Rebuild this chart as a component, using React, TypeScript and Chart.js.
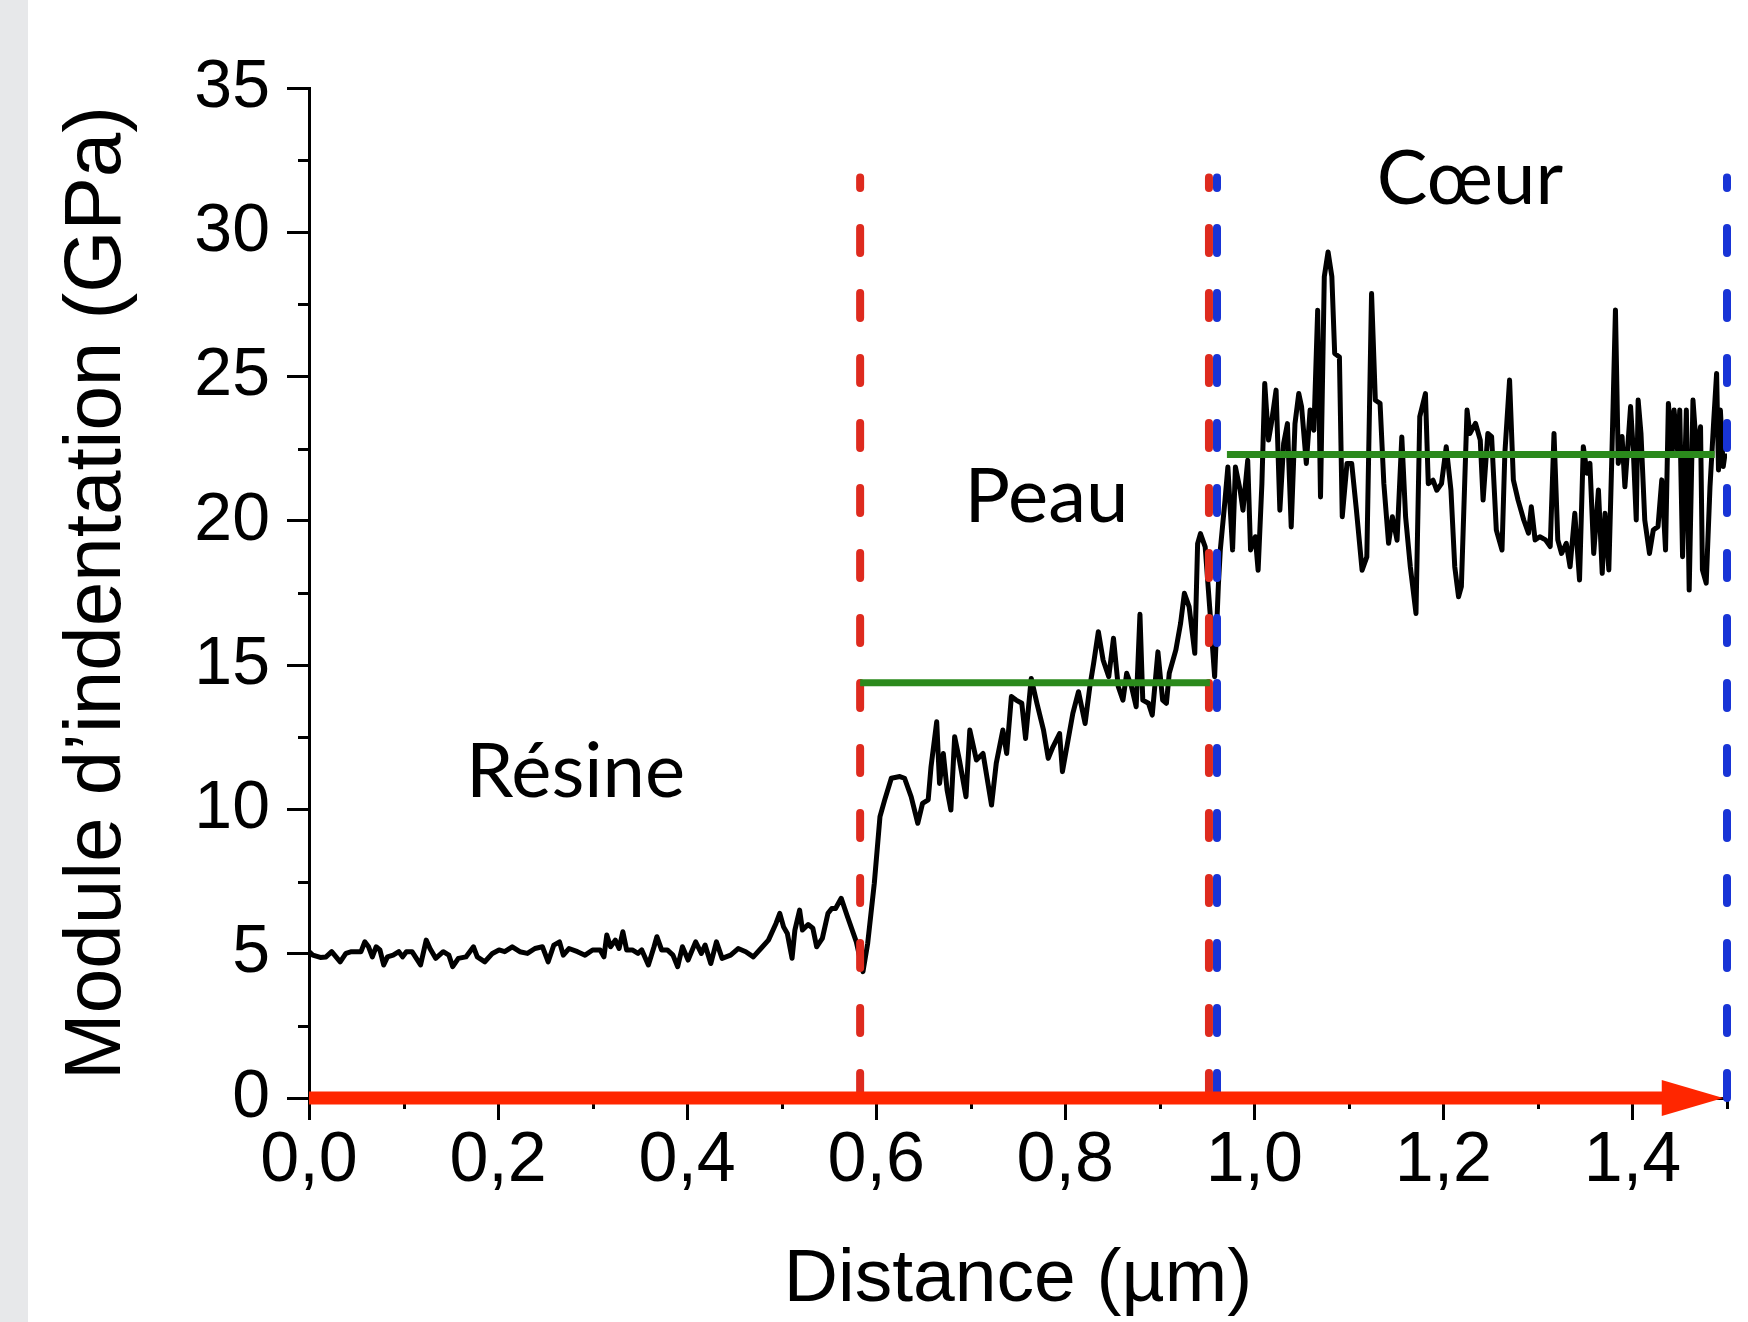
import React, { useEffect, useRef } from "react";
import { Chart, registerables } from "chart.js";

Chart.register(...registerables);

// ---------- data (distance in µm, indentation modulus in GPa) ----------
const RESINE: [number, number][] = [
  [0.000, 5.07], [0.004, 4.95], [0.012, 4.87], [0.018, 4.89], [0.024, 5.07], [0.033, 4.72], [0.039, 5.01], [0.045, 5.07], [0.055, 5.07], [0.059, 5.41],
  [0.063, 5.24], [0.067, 4.89], [0.071, 5.24], [0.075, 5.13], [0.079, 4.61], [0.083, 4.89], [0.089, 4.95], [0.095, 5.07], [0.099, 4.89], [0.103, 5.07],
  [0.109, 5.07], [0.118, 4.61], [0.124, 5.47], [0.128, 5.18], [0.134, 4.84], [0.142, 5.07], [0.148, 4.95], [0.152, 4.55], [0.158, 4.84], [0.166, 4.89],
  [0.174, 5.24], [0.178, 4.89], [0.186, 4.72], [0.194, 5.01], [0.201, 5.13], [0.207, 5.07], [0.215, 5.24], [0.223, 5.07], [0.231, 5.01], [0.239, 5.18],
  [0.247, 5.24], [0.253, 4.72], [0.259, 5.30], [0.265, 5.41], [0.269, 4.95], [0.275, 5.18], [0.284, 5.07], [0.292, 4.95], [0.300, 5.13], [0.308, 5.13],
  [0.312, 4.89], [0.315, 5.65], [0.319, 5.24], [0.324, 5.47], [0.328, 5.18], [0.332, 5.76], [0.336, 5.13], [0.342, 5.13], [0.348, 5.01], [0.352, 5.13],
  [0.359, 4.61], [0.365, 5.24], [0.368, 5.59], [0.373, 5.13], [0.379, 5.13], [0.385, 4.95], [0.390, 4.55], [0.395, 5.24], [0.401, 4.78], [0.409, 5.41],
  [0.415, 5.01], [0.419, 5.30], [0.425, 4.66], [0.431, 5.41], [0.437, 4.84], [0.446, 4.95], [0.454, 5.18], [0.462, 5.07], [0.470, 4.89], [0.478, 5.18],
  [0.486, 5.47], [0.494, 6.05], [0.498, 6.40], [0.502, 5.93], [0.506, 5.70], [0.511, 4.84], [0.514, 5.82], [0.519, 6.51], [0.522, 5.82], [0.528, 6.01],
  [0.533, 5.88], [0.537, 5.24], [0.543, 5.53], [0.549, 6.40], [0.553, 6.57], [0.557, 6.57], [0.563, 6.92], [0.569, 6.34], [0.579, 5.41], [0.586, 4.38],
  [0.591, 5.36],
];

const PEAU: [number, number][] = [
  [0.598, 7.44], [0.604, 9.75], [0.609, 10.33], [0.616, 11.08], [0.625, 11.14], [0.630, 11.08], [0.637, 10.44], [0.644, 9.52], [0.649, 10.21], [0.655, 10.33],
  [0.658, 11.48], [0.664, 13.04], [0.667, 10.90], [0.671, 11.94], [0.675, 10.67], [0.679, 9.98], [0.683, 12.52], [0.688, 11.71], [0.695, 10.44], [0.699, 12.75],
  [0.706, 11.71], [0.713, 11.94], [0.722, 10.15], [0.727, 11.60], [0.734, 12.75], [0.738, 11.94], [0.743, 13.91], [0.748, 13.79], [0.754, 13.68], [0.758, 12.46],
  [0.764, 14.54], [0.770, 13.68], [0.777, 12.75], [0.782, 11.77], [0.787, 12.17], [0.794, 12.63], [0.797, 11.31], [0.802, 12.23], [0.808, 13.33], [0.814, 14.08],
  [0.821, 12.98], [0.826, 14.26], [0.830, 15.06], [0.835, 16.16], [0.840, 15.18], [0.846, 14.60], [0.851, 15.93], [0.856, 14.26], [0.861, 13.79], [0.865, 14.72],
  [0.870, 14.26], [0.875, 13.56], [0.879, 16.76], [0.882, 13.79], [0.888, 13.68], [0.892, 13.27], [0.898, 15.46], [0.903, 13.79], [0.907, 13.68], [0.910, 14.72],
  [0.917, 15.53], [0.922, 16.45], [0.926, 17.49], [0.931, 17.03], [0.937, 15.41], [0.940, 19.21], [0.943, 19.56], [0.948, 19.10], [0.953, 16.90], [0.958, 14.60],
];

const COEUR: [number, number][] = [
  [0.962, 17.80], [0.964, 18.99], [0.969, 20.72], [0.972, 21.87], [0.977, 18.99], [0.980, 21.87], [0.985, 21.06], [0.988, 20.37], [0.993, 22.10], [0.996, 18.99],
  [1.001, 19.45], [1.004, 18.29], [1.008, 21.29], [1.011, 24.76], [1.015, 22.80], [1.018, 23.37], [1.023, 24.53], [1.027, 20.37], [1.031, 22.68], [1.035, 23.37],
  [1.039, 19.79], [1.043, 23.37], [1.047, 24.41], [1.050, 23.95], [1.055, 21.99], [1.059, 23.84], [1.063, 23.14], [1.067, 27.30], [1.070, 20.83], [1.074, 28.46],
  [1.078, 29.32], [1.082, 28.46], [1.085, 25.80], [1.090, 25.68], [1.093, 20.14], [1.098, 21.99], [1.103, 21.99], [1.108, 20.37], [1.114, 18.29], [1.119, 18.75],
  [1.124, 27.88], [1.128, 24.18], [1.133, 24.07], [1.137, 21.29], [1.142, 19.22], [1.146, 20.14], [1.151, 19.33], [1.156, 22.91], [1.160, 20.14], [1.165, 18.41],
  [1.171, 16.79], [1.175, 23.61], [1.181, 24.41], [1.184, 21.29], [1.189, 21.41], [1.193, 21.06], [1.198, 21.29], [1.203, 22.57], [1.208, 21.06], [1.212, 18.41],
  [1.216, 17.37], [1.219, 17.72], [1.225, 23.84], [1.228, 23.03], [1.234, 23.38], [1.239, 22.80], [1.242, 20.72], [1.247, 23.03], [1.251, 22.92], [1.256, 19.68],
  [1.262, 18.99], [1.265, 22.34], [1.270, 24.88], [1.274, 21.42], [1.279, 20.72], [1.285, 20.03], [1.290, 19.57], [1.293, 20.49], [1.297, 19.34], [1.302, 19.45],
  [1.308, 19.34], [1.313, 19.11], [1.317, 23.03], [1.321, 19.34], [1.325, 18.87], [1.330, 19.22], [1.334, 18.41], [1.339, 20.26], [1.344, 17.95], [1.348, 22.57],
  [1.352, 21.65], [1.355, 21.99], [1.359, 18.87], [1.364, 21.07], [1.368, 18.18], [1.371, 20.26], [1.375, 18.30], [1.378, 21.99], [1.382, 27.31], [1.385, 21.99],
  [1.389, 22.92], [1.392, 21.18], [1.398, 23.96], [1.401, 22.34], [1.404, 20.03], [1.406, 24.19], [1.409, 23.03], [1.413, 20.03], [1.418, 18.87], [1.422, 19.68],
  [1.427, 19.80], [1.431, 21.42], [1.435, 18.99], [1.438, 24.07], [1.442, 22.34], [1.444, 23.84], [1.448, 22.34], [1.450, 23.84], [1.453, 18.76], [1.457, 23.84],
  [1.460, 17.60], [1.464, 24.19], [1.468, 22.34], [1.472, 23.26], [1.474, 18.30], [1.478, 17.84], [1.482, 21.18], [1.486, 23.49], [1.489, 25.11], [1.491, 21.76],
  [1.493, 23.84], [1.496, 21.88], [1.498, 22.34],
];

// ticks
const X_MAJOR_TICKS = [0, 0.2, 0.4, 0.6, 0.8, 1.0, 1.2, 1.4];
const X_MINOR_TICKS = [0.1, 0.3, 0.5, 0.7, 0.9, 1.1, 1.3, 1.5];
const Y_MAJOR_TICKS = [0, 5, 10, 15, 20, 25, 30, 35];
const Y_MINOR_TICKS = [2.5, 7.5, 12.5, 17.5, 22.5, 27.5, 32.5];

// region boundaries (µm) and their top (GPa)
const RED_BOUNDARIES = [0.583, 0.952];
const BLUE_BOUNDARIES = [0.9605, 1.5];
const BOUNDARY_TOP = 31.9;

// mean levels per layer
const MEAN_START = [0.583, 0.971];
const MEAN_END = [0.953, 1.487];
const MEAN_VALUE = [14.39, 22.3];

// region names and where they are written (µm, GPa)
const REGION_NAMES = ["Résine", "Peau", "Cœur"];
const REGION_X = [0.282, 0.78, 1.228];
const REGION_Y = [10.43, 19.96, 30.98];

// red arrow along the distance axis (µm), head half-height in GPa
const ARROW_START = 0;
const ARROW_HEAD_BASE = 1.431;
const ARROW_TIP = 1.496;
const ARROW_HALF = 0.62;

const AXIS_FONT = "'Liberation Sans', Arial, Helvetica, sans-serif";
const LABEL_FONT = "Lato, 'Open Sans', sans-serif";
const ARROW_COLOR = "#ff2600";
const RED_DASH = "#de2a1e";
const BLUE_DASH = "#1834d6";
const GREEN = "#2b8a1c";

const overlayPlugin = {
  id: "overlay",
  beforeDatasetsDraw(chart: any) {
    const { ctx, chartArea, scales } = chart;
    const x = scales.x;
    const y = scales.y;
    ctx.save();
    ctx.strokeStyle = "#000";
    ctx.lineWidth = 3;
    ctx.beginPath();
    for (const v of Y_MINOR_TICKS) {
      const py = Math.round(y.getPixelForValue(v)) + 0.5;
      ctx.moveTo(chartArea.left - 11, py);
      ctx.lineTo(chartArea.left, py);
    }
    for (const v of X_MINOR_TICKS) {
      const px = Math.round(x.getPixelForValue(v)) + 0.5;
      ctx.moveTo(px, chartArea.bottom);
      ctx.lineTo(px, chartArea.bottom + 11);
    }
    ctx.stroke();
    ctx.restore();
  },
  afterDatasetsDraw(chart: any) {
    const { ctx, scales } = chart;
    const x = scales.x;
    const y = scales.y;
    ctx.save();
    // arrow head
    ctx.fillStyle = ARROW_COLOR;
    ctx.beginPath();
    ctx.moveTo(x.getPixelForValue(ARROW_TIP), y.getPixelForValue(0));
    ctx.lineTo(x.getPixelForValue(ARROW_HEAD_BASE), y.getPixelForValue(ARROW_HALF));
    ctx.lineTo(x.getPixelForValue(ARROW_HEAD_BASE), y.getPixelForValue(-ARROW_HALF));
    ctx.closePath();
    ctx.fill();
    // region names
    ctx.fillStyle = "#000";
    ctx.font = `400 76px ${LABEL_FONT}`;
    ctx.textAlign = "center";
    ctx.textBaseline = "alphabetic";
    REGION_NAMES.forEach((name, i) => {
      ctx.fillText(name, x.getPixelForValue(REGION_X[i]), y.getPixelForValue(REGION_Y[i]));
    });
    ctx.restore();
  },
};

function toPoints(pairs: [number, number][]) {
  return pairs.map(([px, py]) => ({ x: px, y: py }));
}

function boundary(xv: number, color: string) {
  return {
    data: [{ x: xv, y: 0 }, { x: xv, y: BOUNDARY_TOP }],
    borderColor: color,
    borderWidth: 8,
    borderDash: [25, 40],
    borderCapStyle: "round" as const,
    pointRadius: 0,
    clip: false as const,
  };
}

export default function App() {
  const canvasRef = useRef<HTMLCanvasElement>(null);

  useEffect(() => {
    const canvas = canvasRef.current;
    if (!canvas) return;
    const curve = [...RESINE, ...PEAU, ...COEUR];
    const datasets: any[] = [
      {
        data: [{ x: ARROW_START, y: 0 }, { x: ARROW_HEAD_BASE + 0.004, y: 0 }],
        borderColor: ARROW_COLOR,
        borderWidth: 13,
        borderCapStyle: "butt",
        pointRadius: 0,
        clip: false,
      },
      ...MEAN_VALUE.map((v, i) => ({
        data: [{ x: MEAN_START[i], y: v }, { x: MEAN_END[i], y: v }],
        borderColor: GREEN,
        borderWidth: 7,
        pointRadius: 0,
        clip: false,
      })),
      ...BLUE_BOUNDARIES.map((v) => boundary(v, BLUE_DASH)),
      ...RED_BOUNDARIES.map((v) => boundary(v, RED_DASH)),
      {
        data: toPoints(curve),
        borderColor: "#000",
        borderWidth: 5,
        borderJoinStyle: "round",
        pointRadius: 0,
        tension: 0,
      },
    ];

    const chart = new Chart(canvas, {
      type: "line",
      data: { datasets },
      options: {
        animation: false,
        responsive: false,
        events: [],
        layout: { padding: { left: 0, top: 88, right: 21, bottom: 0 } },
        plugins: { legend: { display: false }, tooltip: { enabled: false } },
        scales: {
          x: {
            type: "linear",
            min: 0,
            max: 1.5,
            afterBuildTicks: (s: any) => {
              s.ticks = X_MAJOR_TICKS.map((v) => ({ value: v }));
            },
            afterFit: (s: any) => {
              s.height = 224;
            },
            grid: { display: true, drawOnChartArea: false, drawTicks: true, tickLength: 22, tickWidth: 3, tickColor: "#000" },
            border: { display: true, color: "#000", width: 3 },
            ticks: {
              color: "#000",
              font: { family: AXIS_FONT, size: 70 },
              padding: 0,
              maxRotation: 0,
              autoSkip: false,
              callback: (v: any) => Number(v).toFixed(1).replace(".", ","),
            },
            title: {
              display: true,
              text: "Distance (µm)",
              color: "#000",
              font: { family: AXIS_FONT, size: 75 },
              padding: { top: 0, bottom: -3 },
            },
          },
          y: {
            type: "linear",
            min: 0,
            max: 35,
            afterBuildTicks: (s: any) => {
              s.ticks = Y_MAJOR_TICKS.map((v) => ({ value: v }));
            },
            afterFit: (s: any) => {
              s.width = 309;
            },
            grid: { display: true, drawOnChartArea: false, drawTicks: true, tickLength: 22, tickWidth: 3, tickColor: "#000" },
            border: { display: true, color: "#000", width: 3 },
            ticks: {
              color: "#000",
              font: { family: AXIS_FONT, size: 68 },
              padding: 17,
              autoSkip: false,
            },
            title: {
              display: true,
              text: "Module d’indentation (GPa)",
              color: "#000",
              font: { family: AXIS_FONT, size: 80 },
              padding: { top: 50, bottom: 0 },
            },
          },
        },
      },
      plugins: [overlayPlugin],
    } as any);

    let alive = true;
    const fonts: any = (document as any).fonts;
    if (fonts && fonts.load) {
      fonts.load(`76px Lato`).then(() => {
        if (alive) chart.update();
      }).catch(() => {});
    }
    return () => {
      alive = false;
      chart.destroy();
    };
  }, []);

  return (
    <div
      style={{
        position: "absolute",
        left: 0,
        top: 0,
        width: 1748,
        height: 1322,
        overflow: "hidden",
        background: "linear-gradient(to right, #e7e8ea 0px, #e7e8ea 28px, #ffffff 28px, #ffffff 100%)",
      }}
    >
      <canvas ref={canvasRef} width={1748} height={1322} style={{ display: "block", width: 1748, height: 1322 }} />
    </div>
  );
}
